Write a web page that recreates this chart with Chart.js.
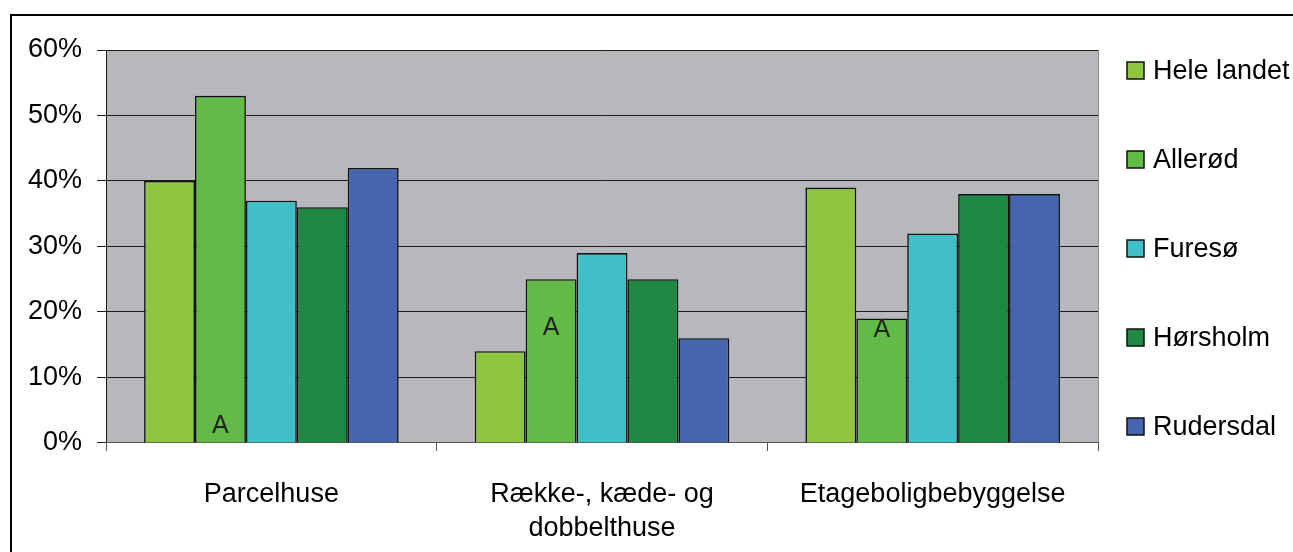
<!DOCTYPE html>
<html>
<head>
<meta charset="utf-8">
<script src="https://cdn.jsdelivr.net/npm/chart.js@4/dist/chart.umd.min.js"></script>
<style>
  html, body { margin:0; padding:0; background:#fff; overflow:hidden; }
  .frame { position:absolute; left:10px; top:14px; width:1400px; height:700px; border:2px solid #000; }
  .wrap { position:absolute; left:0; top:0; width:1293px; height:573px; }
</style>
</head>
<body>
<div class="frame"></div>
<div class="wrap"><canvas id="chart"></canvas></div>
<script>
/* ---------- data ---------- */
const categories = ['Parcelhuse', ['Række-, kæde- og', 'dobbelthuse'], 'Etageboligbebyggelse'];
const seriesNames = ['Hele landet', 'Allerød', 'Furesø', 'Hørsholm', 'Rudersdal'];
const heleLandet = [40, 14, 39];
const alleroed   = [53, 25, 19];
const furesoe    = [37, 29, 32];
const hoersholm  = [36, 25, 38];
const rudersdal  = [42, 16, 38];
const yTicks = [0, 10, 20, 30, 40, 50, 60];
// the "A" marks sit on the Allerød bars, at these heights (in %)
const markText = 'A';
const markValues = [2.6, 17.5, 17.3];

const colors = ['#8fc641', '#62bb46', '#40c0c6', '#1f8843', '#4566ae'];
const FONT = 'Liberation Sans, Arial, sans-serif';

const plotBg = {
  id:'plotBg',
  beforeDraw(chart){
    const {ctx, chartArea:a} = chart;
    ctx.save();
    ctx.fillStyle = '#b7b8bc';
    ctx.fillRect(a.left, a.top, a.right-a.left, a.bottom-a.top);
    ctx.strokeStyle = '#8a8a8a';
    ctx.lineWidth = 1;
    ctx.beginPath();
    ctx.moveTo(a.right+0.5, a.top); ctx.lineTo(a.right+0.5, a.bottom);
    ctx.stroke();
    ctx.restore();
  }
};

const marks = {
  id:'marks',
  afterDatasetsDraw(chart){
    const {ctx, scales} = chart;
    const meta = chart.getDatasetMeta(1);
    ctx.save();
    ctx.font = '25px ' + FONT;
    ctx.fillStyle = '#222';
    ctx.textAlign = 'center';
    ctx.textBaseline = 'middle';
    meta.data.forEach((bar, i) => {
      ctx.fillText(markText, bar.x, scales.y.getPixelForValue(markValues[i]));
    });
    ctx.restore();
  }
};

const sideLegend = {
  id:'sideLegend',
  afterDraw(chart){
    const {ctx, chartArea:a} = chart;
    const mid = (a.top + a.bottom) / 2 + 3;
    const step = 89;
    ctx.save();
    ctx.font = '27px ' + FONT;
    ctx.textBaseline = 'middle';
    chart.data.datasets.forEach((ds, i) => {
      const y = Math.round(mid + (i - 2) * step);
      ctx.fillStyle = ds.backgroundColor;
      ctx.fillRect(1127, y - 9, 17, 17);
      ctx.strokeStyle = '#111';
      ctx.lineWidth = 1.5;
      ctx.strokeRect(1127, y - 9, 17, 17);
      ctx.fillStyle = '#000';
      ctx.fillText(ds.label, 1153, y + 1);
    });
    ctx.restore();
  }
};

const seriesValues = [heleLandet, alleroed, furesoe, hoersholm, rudersdal];

new Chart(document.getElementById('chart'), {
  type:'bar',
  data:{
    labels: categories,
    datasets: seriesNames.map((name, i) => ({
      label: name,
      data: seriesValues[i],
      backgroundColor: colors[i],
      borderColor: '#111',
      borderWidth: 1.6,
      categoryPercentage: 0.77,
      barPercentage: 1.0
    }))
  },
  options:{
    responsive:true,
    maintainAspectRatio:false,
    animation:false,
    layout:{ padding:{ left:13, right:195, top:50, bottom:0 } },
    plugins:{ legend:{ display:false }, tooltip:{ enabled:false } },
    scales:{
      x:{
        offset:true,
        grid:{ offset:true, drawOnChartArea:false, drawTicks:true, tickLength:8, color:'#555', lineWidth:1 },
        border:{ color:'#555', width:1 },
        ticks:{ color:'#000', padding:27, font:{ family:FONT, size:27, lineHeight:1.26 }, maxRotation:0 }
      },
      y:{
        min: yTicks[0], max: yTicks[yTicks.length-1],
        afterBuildTicks(axis){ axis.ticks = yTicks.map(v => ({ value:v })); },
        grid:{ color:'#1a1a1a', lineWidth:1, tickLength:9 },
        border:{ color:'#1a1a1a', width:1 },
        ticks:{ color:'#000', padding:15, font:{ family:FONT, size:27 }, callback:v => v + '%' }
      }
    }
  },
  plugins:[plotBg, marks, sideLegend]
});
</script>
</body>
</html>
